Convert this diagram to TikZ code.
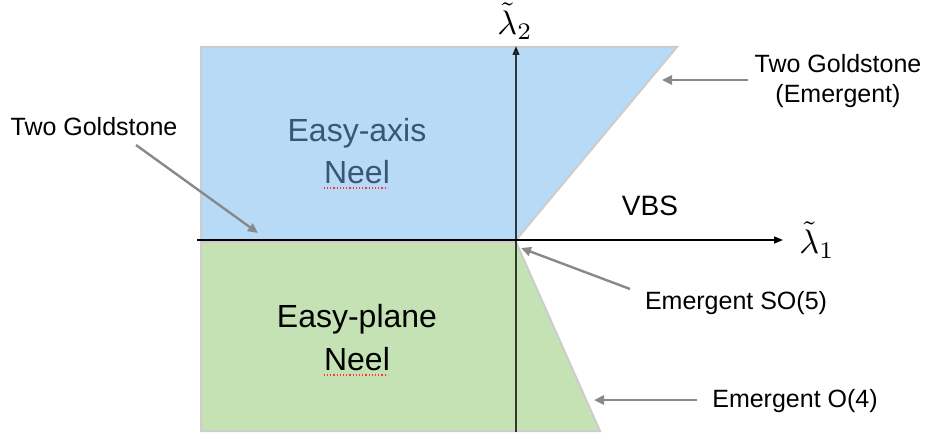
\documentclass[tikz,border=0pt]{standalone}
\usepackage{fontspec}
\setmainfont{Liberation Sans}
\usetikzlibrary{arrows.meta}
\definecolor{bluefill}{HTML}{B7DAF7}
\definecolor{greenfill}{HTML}{C4E2B3}
\definecolor{regionedge}{HTML}{CDCDCD}
\definecolor{pointer}{HTML}{88898B}
\definecolor{axislabel}{HTML}{3A5675}
\newcommand{\biglam}[1]{\scalebox{3.4}{$\tilde{\lambda}_{#1}$}}
\tikzset{
  region/.style={draw=regionedge, line width=2pt, line join=miter},
  axis/.style={line width=1.4pt, -{Triangle[length=9pt,width=7pt]}},
  pointerarrow/.style={draw=pointer, line width=2.4pt, -{Triangle[length=10pt,width=9pt]}},
  note/.style={font=\fontsize{25}{30}\selectfont, align=center, inner sep=0pt},
  bigtext/.style={font=\fontsize{32}{40}\selectfont, align=center, inner sep=0pt},
  mathlabel/.style={inner sep=0pt},
  spell/.style={draw=red!80, line width=1.2pt, dotted}
}
\begin{document}
\begin{tikzpicture}[x=1pt,y=-1pt]
\useasboundingbox (0,0) rectangle (932,436);
% regions
\path[region, fill=bluefill] (201,47) -- (677,47) -- (516,240) -- (201,240) -- cycle;
\path[region, fill=greenfill] (201,242) -- (516,242) -- (600,431) -- (201,431) -- cycle;
% axes
\coordinate (xstart) at (197,240);
\coordinate (xend) at (783,240);
\coordinate (ystart) at (516,432);
\coordinate (yend) at (516,46);
\draw[axis, black] (xstart) -- (xend);
\draw[axis, black, draw opacity=0.75, fill opacity=0.75] (ystart) -- (yend);
\node[mathlabel] (l1) at (817,240) {\biglam{1}};
\node[mathlabel] (l2) at (515,21) {\biglam{2}};
% region labels
\node[bigtext, text=axislabel] (ea) at (357,133) {Easy-axis};
\node[bigtext, text=axislabel] (ean) at (357,172) {Neel};
\node[bigtext] (ep) at (357,319) {Easy-plane};
\node[bigtext] (epn) at (357,359) {Neel};
\draw[spell] (ean.south west) ++(0,4) -- ++(64,0);
\draw[spell] (epn.south west) ++(0,4) -- ++(64,0);
\node[font=\fontsize{28}{30}\selectfont, inner sep=0pt] (vbs) at (650,206) {VBS};
% annotations
\node[note] (tg) at (94,127) {Two Goldstone};
\node[note] (tge) at (838,81) {Two Goldstone\\(Emergent)};
\node[note] (so5) at (736,303) {Emergent SO(5)};
\node[note] (o4) at (795,401) {Emergent O(4)};
\coordinate (tgs) at (136,145);
\coordinate (tgt) at (258,233);
\coordinate (tges) at (748,80);
\coordinate (tget) at (662,80);
\coordinate (sos) at (630,289);
\coordinate (sot) at (521,248);
\coordinate (o4s) at (697,400);
\coordinate (o4t) at (594,400);
\draw[pointerarrow] (tgs) -- (tgt);
\draw[pointerarrow] (tges) -- (tget);
\draw[pointerarrow] (sos) -- (sot);
\draw[pointerarrow] (o4s) -- (o4t);
\end{tikzpicture}
\end{document}
